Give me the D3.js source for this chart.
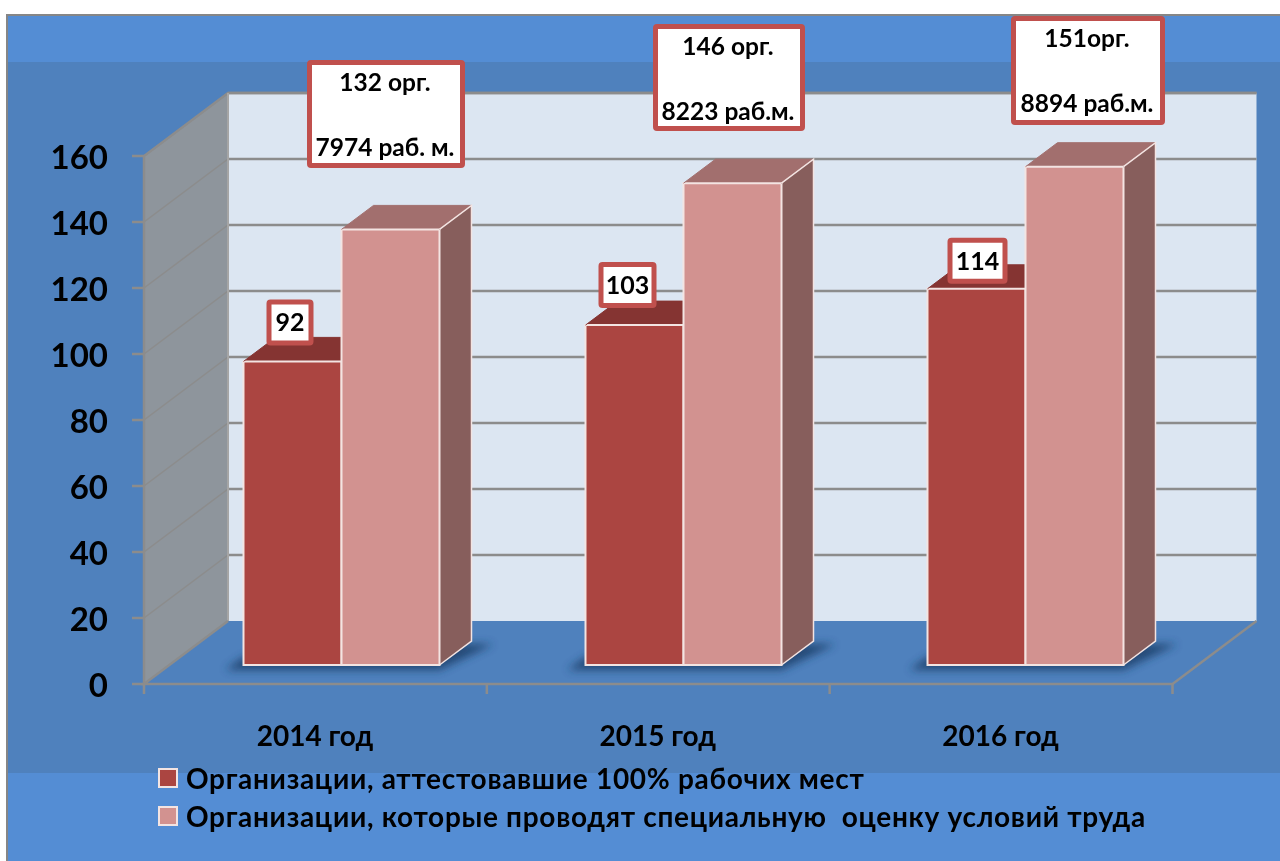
<!DOCTYPE html>
<html><head><meta charset="utf-8">
<script src="https://cdn.jsdelivr.net/npm/d3@7"></script>
<style>
html,body{margin:0;padding:0;background:#fff;overflow:hidden}
svg{display:block;filter:blur(0.5px)}
text{font-family:Lato,"Open Sans",sans-serif;font-weight:700;fill:#000}
</style></head><body>
<svg id="c" width="1280" height="861"></svg>
<script>
const years = ["2014 год","2015 год","2016 год"];
const attested = [92,103,114];
const assessed = [132,146,151];
const yTicks = [0,20,40,60,80,100,120,140,160];
const seriesNames = ["Организации, аттестовавшие 100% рабочих мест","Организации, которые проводят специальную  оценку условий труда"];
const calloutLines = [["132 орг.","7974 раб. м."],["146 орг.","8223 раб.м."],["151орг.","8894 раб.м."]];

const svg = d3.select("#c");
const defs = svg.append("defs");
defs.append("filter").attr("id","shadow").attr("x","-20%").attr("y","-100%").attr("width","140%").attr("height","300%")
  .append("feGaussianBlur").attr("stdDeviation",4);

const blueLight="#548dd4", blueDark="#4f81bd", axisGrey="#8c8c8c";
const red="#ab4541", redTop="#853432", pink="#d29290", pinkTop="#a26f6e", pinkSide="#875e5c";

// panel
svg.append("rect").attr("x",6).attr("y",14).attr("width",1274).attr("height",847).attr("fill","#868686");
svg.append("rect").attr("x",8).attr("y",16).attr("width",1272).attr("height",845).attr("fill",blueLight);
svg.append("rect").attr("x",8).attr("y",62).attr("width",1272).attr("height",711).attr("fill",blueDark);

// 3D frame
const y = d3.scaleLinear().domain([0,160]).range([684,156]);
const x = d3.scaleBand().domain(years).range([144,1172.5]);
const xBars = d3.scaleBand().domain(years).range([144.5,1170.5]);
const wallDx=84, wallDy=-63;
const x0=x.range()[0], x1=x.range()[1];
const poly=(pts)=>d3.line()(pts)+"Z";

svg.append("path").attr("d",poly([[x0+wallDx,y(160)+wallDy],[x1+wallDx,y(160)+wallDy],[x1+wallDx,y(0)+wallDy],[x0+wallDx,y(0)+wallDy]])).attr("fill","#dce6f2");
svg.append("path").attr("d",poly([[x0,y(160)],[x0+wallDx,y(160)+wallDy],[x0+wallDx,y(0)+wallDy],[x0,y(0)]])).attr("fill","#8e959c");
svg.append("path").attr("d",poly([[x0,y(0)],[x0+wallDx,y(0)+wallDy],[x1+wallDx,y(0)+wallDy],[x1,y(0)]])).attr("fill",blueDark);

const grid=svg.append("g").attr("fill","none");
yTicks.forEach(t=>{
  if(t>0) grid.append("line").attr("x1",x0+wallDx).attr("x2",x1+wallDx).attr("y1",y(t)+wallDy).attr("y2",y(t)+wallDy).attr("stroke",axisGrey).attr("stroke-width",2.5);
  if(t>0) grid.append("line").attr("x1",x0).attr("x2",x0+wallDx).attr("y1",y(t)).attr("y2",y(t)+wallDy).attr("stroke",axisGrey).attr("stroke-width",1.5);
  grid.append("line").attr("x1",x0-12).attr("x2",x0).attr("y1",y(t)).attr("y2",y(t)).attr("stroke",axisGrey).attr("stroke-width",2.5);
});
grid.append("path").attr("d",d3.line()([[x0,y(0)],[x0,y(160)],[x0+wallDx,y(160)+wallDy],[x1+wallDx,y(160)+wallDy]])).attr("stroke",axisGrey).attr("stroke-width",2.5);
grid.append("line").attr("x1",x0+wallDx).attr("x2",x0+wallDx).attr("y1",y(160)+wallDy).attr("y2",y(0)+wallDy).attr("stroke","#a5a5a5").attr("stroke-width",2);
grid.append("path").attr("d",d3.line()([[x0+wallDx,y(0)+wallDy],[x0,y(0)],[x1,y(0)],[x1+wallDx,y(0)+wallDy]])).attr("stroke",axisGrey).attr("stroke-width",2.5);
d3.range(4).forEach(i=>{
  const tx=x0+i*x.step();
  grid.append("line").attr("x1",tx).attr("x2",tx).attr("y1",y(0)).attr("y2",y(0)+10).attr("stroke",axisGrey).attr("stroke-width",2.5);
});

const barW=98, depthDx=32, depthDy=-24, barLift=19, barInset=99;
const vy=v=>y(v)-barLift;
const bars=svg.append("g");
function bar(bx,v,front,top,side){
  const yb=y(0)-barLift, yt=vy(v);
  const g=bars.append("g");
  g.append("path").attr("d",poly([[bx,yt],[bx+depthDx,yt+depthDy],[bx+barW+depthDx,yt+depthDy],[bx+barW,yt]])).attr("fill",top);
  g.append("path").attr("d",poly([[bx+barW,yt],[bx+barW+depthDx,yt+depthDy],[bx+barW+depthDx,yb+depthDy],[bx+barW,yb]])).attr("fill",side);
  g.append("rect").attr("x",bx).attr("y",yt).attr("width",barW).attr("height",yb-yt).attr("fill",front);
  g.append("path").attr("d",poly([[bx,yt],[bx+barW,yt],[bx+barW,yb],[bx,yb]])).attr("fill","none").attr("stroke","#f3e4e2").attr("stroke-width",2);
  g.append("path").attr("d",d3.line()([[bx,yt],[bx+depthDx,yt+depthDy],[bx+barW+depthDx,yt+depthDy],[bx+barW,yt]])).attr("fill","none").attr("stroke",top).attr("stroke-width",1);
  g.append("path").attr("d",d3.line()([[bx+barW,yt],[bx+barW+depthDx,yt+depthDy],[bx+barW+depthDx,yb+depthDy],[bx+barW,yb]])).attr("fill","none").attr("stroke","#f3e4e2").attr("stroke-width",1.5);
}
years.forEach((yr,i)=>{
  const bx=xBars(yr)+barInset;
  const yb=y(0)-barLift;
  bars.append("path").attr("filter","url(#shadow)").attr("fill","#1f3f6b").attr("opacity",.85)
    .attr("d",poly([[bx-18,yb+5],[bx+2*barW,yb+5],[bx+2*barW+depthDx+22,yb+depthDy+3],[bx+2*barW,yb+depthDy+3],[bx,yb-8]]));
  bar(bx,attested[i],red,redTop,redTop);
  bar(bx+barW,assessed[i],pink,pinkTop,pinkSide);
});

const labels=svg.append("g");
const tickFmt=d3.format("d");
yTicks.forEach(t=>{
  labels.append("text").attr("x",108).attr("y",y(t)+13).attr("text-anchor","end").attr("font-size",33).text(tickFmt(t));
});
years.forEach(yr=>{
  labels.append("text").attr("x",x(yr)+x.bandwidth()/2-0.5).attr("y",746).attr("text-anchor","middle").attr("font-size",28).text(yr);
});

const smallBoxW=[47,58,60], smallBoxDx=[23,13,20], smallBoxDy=[-62,-63,-51];
function box(bxX,bxY,w,h){
  labels.append("rect").attr("x",bxX).attr("y",bxY).attr("width",w).attr("height",h).attr("rx",1.5).attr("fill","#fff").attr("stroke","#c0504d").attr("stroke-width",5);
}
years.forEach((yr,i)=>{
  const bx=xBars(yr)+barInset;
  const w=smallBoxW[i]-5, h=41, xx=bx+smallBoxDx[i]+2.5, yy=vy(attested[i])+smallBoxDy[i]+2.5;
  box(xx,yy,w,h);
  labels.append("text").attr("x",xx+w/2).attr("y",yy+h/2+9).attr("text-anchor","middle").attr("font-size",25).text(attested[i]);
});
const bigX=[309.5,655.5,1013.5], bigY=[62.5,26.5,18.5], bigW=[153,147,149], bigH=[103,102,104];
calloutLines.forEach((ls,i)=>{
  box(bigX[i],bigY[i],bigW[i],bigH[i]);
  labels.append("text").attr("x",bigX[i]+bigW[i]/2-1).attr("y",bigY[i]+28).attr("text-anchor","middle").attr("font-size",24.5).text(ls[0]);
  labels.append("text").attr("x",bigX[i]+bigW[i]/2-1).attr("y",bigY[i]+93).attr("text-anchor","middle").attr("font-size",24.5).text(ls[1]);
});

[red,pink].forEach((c,i)=>{
  const ly=[769,807][i];
  labels.append("rect").attr("x",159).attr("y",ly).attr("width",18).attr("height",18).attr("fill",c).attr("stroke","#f3e4e2").attr("stroke-width",2);
  labels.append("text").attr("x",186).attr("y",ly+20).attr("font-size",28).attr("letter-spacing",0.7).style("white-space","pre").text(seriesNames[i]);
});
</script>
</body></html>
